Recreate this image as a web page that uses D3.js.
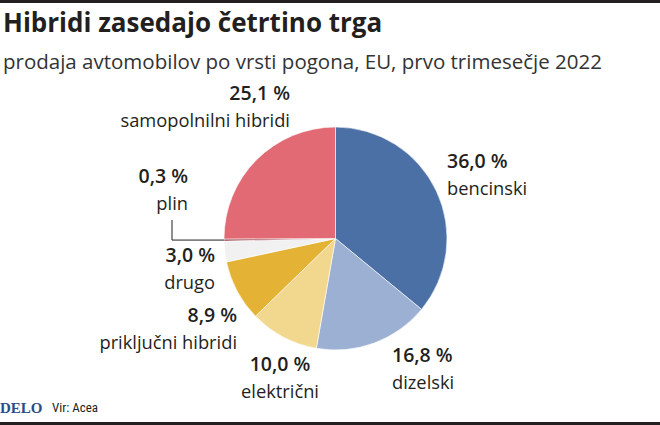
<!DOCTYPE html>
<html><head><meta charset="utf-8">
<script src="https://cdn.jsdelivr.net/npm/d3@7"></script>
<style>
body{margin:0;background:#fff;}
svg{display:block;}
</style></head>
<body><svg id="c" width="660" height="425"></svg>
<script>
const categories = ["bencinski","dizelski","električni","priključni hibridi","drugo","plin","samopolnilni hibridi"];
const values = [36.0, 16.8, 10.0, 8.9, 3.0, 0.3, 25.1];
const colors = ["#4b70a6","#9bb0d3","#f2d78e","#e4b336","#f1f1f1","#8c2f3a","#e26a74"];
const title = "Hibridi zasedajo četrtino trga";
const subtitle = "prodaja avtomobilov po vrsti pogona, EU, prvo trimesečje 2022";
const source = "Vir: Acea";

// label layout (x, y of value baseline, anchor)
const labelLayout = [
  {x:447, y:168, a:"start"},
  {x:392, y:362, a:"start"},
  {x:280, y:371, a:"middle"},
  {x:237, y:322, a:"end"},
  {x:215, y:262, a:"end"},
  {x:188, y:183, a:"end"},
  {x:290, y:100, a:"end"}
];

const svg = d3.select("#c");
const W=660,H=425;
svg.append("rect").attr("x",0).attr("y",0).attr("width",W).attr("height",3).attr("fill","#231f20");
svg.append("rect").attr("x",0).attr("y",422).attr("width",W).attr("height",3).attr("fill","#231f20");

svg.append("text").attr("x",3).attr("y",32).text(title)
  .attr("font-family","'Open Sans', sans-serif").attr("font-weight",700).attr("font-size",26).attr("fill","#231f20");
svg.append("text").attr("x",3).attr("y",69).text(subtitle)
  .attr("font-family","'Open Sans', sans-serif").attr("font-weight",400).attr("font-size",20.5).attr("fill","#333");

const cx=335.5, cy=238.5, r=111.5;
const pie = d3.pie().sort(null).value(d=>d)(values);
const arc = d3.arc().innerRadius(0).outerRadius(r);
const g = svg.append("g").attr("transform",`translate(${cx},${cy})`);
g.selectAll("path").data(pie).join("path")
  .attr("d",arc).attr("fill",(d,i)=>colors[i])
  .attr("stroke","#fff").attr("stroke-width",0.6);

// leader line for plin
const pl = pie[5];
const mid = (pl.startAngle+pl.endAngle)/2;
const ex = cx + r*Math.sin(mid), ey = cy - r*Math.cos(mid);
svg.append("path").attr("d",`M${ex},${ey}H172V220`).attr("fill","none").attr("stroke","#231f20").attr("stroke-width",1);

const fmt = v => d3.format(".1f")(v).replace(".",",") + " %";
categories.forEach((c,i)=>{
  const L = labelLayout[i];
  svg.append("text").attr("x",L.x).attr("y",L.y).attr("text-anchor",L.a)
    .attr("font-family","'Open Sans', sans-serif").attr("font-weight",600).attr("font-size",19.5).attr("fill","#231f20")
    .text(fmt(values[i]));
  svg.append("text").attr("x",L.x).attr("y",L.y+27).attr("text-anchor",L.a)
    .attr("font-family","'Open Sans', sans-serif").attr("font-weight",400).attr("font-size",18.3).attr("fill","#231f20")
    .text(c);
});

svg.append("text").attr("x",0).attr("y",413).text("DELO")
  .attr("font-family","'Liberation Serif', serif").attr("font-weight",700).attr("font-size",15).attr("fill","#2b4c88");
svg.append("text").attr("x",52).attr("y",412).text(source)
  .attr("font-family","'Roboto', sans-serif").attr("font-size",13).attr("fill","#231f20").attr("font-stretch","condensed");
</script></body></html>
